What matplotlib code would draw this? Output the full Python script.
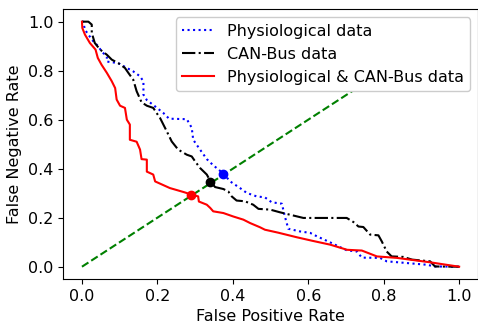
import matplotlib
matplotlib.use("Agg")
import matplotlib.pyplot as plt

# Physiological data (blue, dotted)
fpr_phys = [0.0, 0.003, 0.008, 0.017, 0.03, 0.043, 0.052, 0.066, 0.066, 0.096, 0.119,
            0.136, 0.154, 0.163, 0.163, 0.172, 0.194, 0.216, 0.231, 0.278, 0.291,
            0.295, 0.313, 0.331, 0.348, 0.375, 0.393, 0.419, 0.437, 0.463, 0.485,
            0.503, 0.53, 0.538, 0.547, 0.578, 0.605, 0.623, 0.653, 0.702, 0.729,
            0.742, 0.79, 0.808, 0.861, 0.914, 0.936, 1.0]
fnr_phys = [1.0, 1.0, 0.967, 0.947, 0.92, 0.9, 0.879, 0.857, 0.837, 0.831, 0.811,
            0.797, 0.777, 0.756, 0.702, 0.68, 0.654, 0.627, 0.604, 0.602, 0.567,
            0.518, 0.478, 0.439, 0.414, 0.38, 0.348, 0.321, 0.301, 0.287, 0.283,
            0.263, 0.257, 0.205, 0.155, 0.144, 0.138, 0.124, 0.103, 0.067, 0.062,
            0.037, 0.036, 0.022, 0.015, 0.008, 0.001, 0.0]

# CAN-Bus data (black, dash-dot)
fpr_can = [0.0, 0.017, 0.026, 0.026, 0.034, 0.048, 0.066, 0.079, 0.096, 0.114, 0.123,
           0.136, 0.145, 0.158, 0.172, 0.189, 0.198, 0.207, 0.225, 0.238, 0.255,
           0.278, 0.291, 0.3, 0.313, 0.331, 0.342, 0.353, 0.375, 0.388, 0.397,
           0.41, 0.432, 0.454, 0.468, 0.499, 0.525, 0.552, 0.587, 0.702, 0.72,
           0.733, 0.746, 0.764, 0.786, 0.795, 0.808, 0.821, 0.852, 0.875, 0.923,
           0.936, 1.0]
fnr_can = [1.0, 1.0, 0.988, 0.954, 0.913, 0.886, 0.865, 0.845, 0.831, 0.811, 0.791,
           0.763, 0.716, 0.671, 0.657, 0.648, 0.627, 0.607, 0.552, 0.511, 0.478,
           0.457, 0.45, 0.43, 0.403, 0.376, 0.345, 0.325, 0.317, 0.307, 0.287,
           0.27, 0.267, 0.253, 0.236, 0.233, 0.222, 0.212, 0.199, 0.199, 0.182,
           0.164, 0.162, 0.131, 0.128, 0.103, 0.062, 0.042, 0.04, 0.029, 0.022,
           0.001, 0.0]

# Physiological & CAN-Bus data (red, solid)
fpr_both = [0.0, 0.001, 0.008, 0.021, 0.036, 0.042, 0.052, 0.066, 0.079, 0.088, 0.092,
            0.101, 0.114, 0.119, 0.127, 0.127, 0.145, 0.154, 0.158, 0.172, 0.172,
            0.189, 0.194, 0.233, 0.271, 0.291, 0.308, 0.31, 0.331, 0.34, 0.348,
            0.375, 0.401, 0.428, 0.446, 0.472, 0.485, 0.52, 0.57, 0.61, 0.658,
            0.703, 0.742, 0.782, 0.835, 0.923, 1.0]
fnr_both = [1.0, 0.974, 0.947, 0.913, 0.886, 0.852, 0.824, 0.791, 0.757, 0.729, 0.682,
            0.657, 0.648, 0.6, 0.58, 0.518, 0.51, 0.478, 0.439, 0.437, 0.388,
            0.376, 0.348, 0.321, 0.304, 0.294, 0.287, 0.266, 0.253, 0.24, 0.226,
            0.219, 0.205, 0.192, 0.178, 0.161, 0.151, 0.139, 0.12, 0.106, 0.09,
            0.069, 0.066, 0.042, 0.036, 0.018, 0.0]

# equal error rate points
eer_phys = (0.375, 0.38)
eer_can = (0.34, 0.345)
eer_both = (0.29, 0.292)

fig = plt.figure(figsize=(4.78, 3.24), dpi=100)
ax = fig.add_axes([0.132, 0.139, 0.868, 0.832])

ax.plot([0, 1], [0, 1], color="green", linestyle="--")
ax.plot(fpr_phys, fnr_phys, color="blue", linestyle=":", label="Physiological data")
ax.plot(fpr_can, fnr_can, color="black", linestyle="-.", label="CAN-Bus data")
ax.plot(fpr_both, fnr_both, color="red", linestyle="-", label="Physiological & CAN-Bus data")

ax.plot(*eer_phys, "o", color="blue", markersize=6)
ax.plot(*eer_can, "o", color="black", markersize=6)
ax.plot(*eer_both, "o", color="red", markersize=6)

ax.set_xlabel("False Positive Rate", fontsize=11.5)
ax.set_ylabel("False Negative Rate", fontsize=11.5)
ax.tick_params(labelsize=11.5)
ax.legend(loc="upper right", fontsize=11.5, framealpha=1)

fig.savefig("out.png", dpi=100)
plt.close(fig)
